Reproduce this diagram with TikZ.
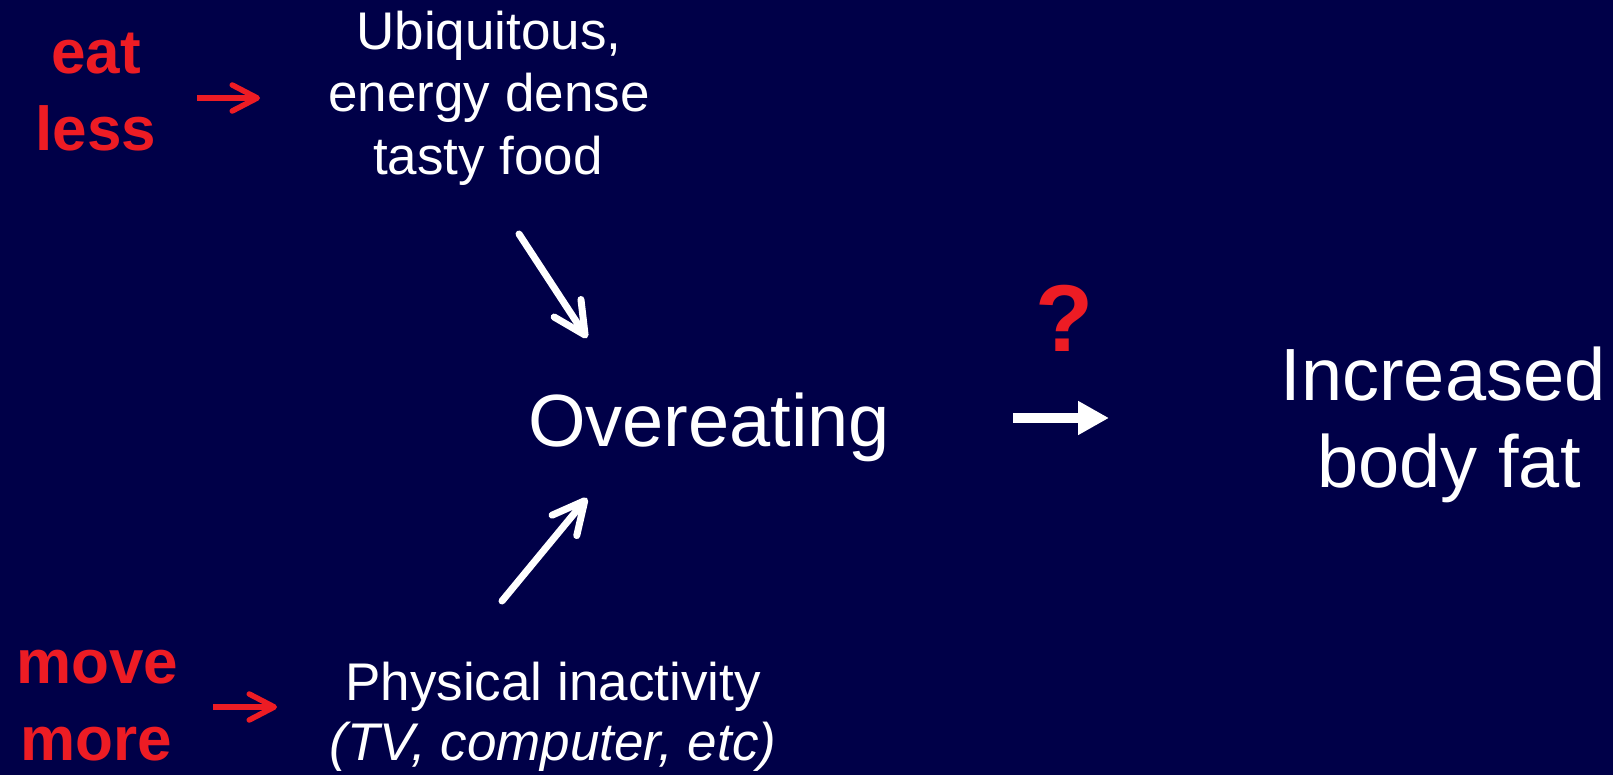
\documentclass[tikz,border=0pt]{standalone}
\usepackage{fontspec}
\setmainfont{Liberation Sans}
\usetikzlibrary{arrows.meta}
\definecolor{bgnavy}{RGB}{0,0,72}
\definecolor{hintred}{RGB}{237,28,36}
\begin{document}
\begin{tikzpicture}[x=1pt,y=-1pt,
  txt/.style={inner sep=0pt, anchor=base, text=white},
  midtxt/.style={txt, font=\fontsize{53}{63}\selectfont},
  bigtxt/.style={txt, font=\fontsize{74}{88}\selectfont},
  redtxt/.style={inner sep=0pt, anchor=base, text=hintred, font=\fontsize{62}{70}\selectfont\bfseries},
  redarrow/.style={draw=hintred, line width=5.5pt, -{Straight Barb[length=25pt,width=26pt,round]}},
  whitearrow/.style={draw=white, line width=7pt, line cap=round, -{Straight Barb[length=32pt,width=32pt,round]}},
  boldarrow/.style={draw=white, line width=10.5pt, -{Triangle[length=31pt,width=32pt]}}]
\fill[bgnavy] (0,0) rectangle (1613,775);
\useasboundingbox (0,0) rectangle (1613,775);
% red hints
\node[redtxt] (eat) at (96,74) {eat};
\node[redtxt] (less) at (96,151) {less};
\node[redtxt] (move) at (97,683) {move};
\node[redtxt] (more) at (96,760) {more};
% food text
\node[midtxt] (food1) at (489,50) {Ubiquitous,};
\node[midtxt] (food2) at (489,112) {energy dense};
\node[midtxt] (food3) at (488,175) {tasty food};
% inactivity text
\node[midtxt] (inact1) at (553,700) {Physical inactivity};
\node[midtxt] (inact2) at (553,760) {\itshape (TV, computer, etc)};
% center and right
\node[bigtxt] (over) at (709,446) {Overeating};
\node[bigtxt] (fat1) at (1443,400) {Increased};
\node[bigtxt] (fat2) at (1449,487) {body fat};
\node[inner sep=0pt, anchor=base, text=hintred, font=\fontsize{95}{105}\selectfont\bfseries] (q) at (1064,352) {?};
% arrow end points
\coordinate (r1s) at (197,98);
\coordinate (r1e) at (260,98);
\coordinate (r2s) at (213,707);
\coordinate (r2e) at (277,707);
\coordinate (d1s) at (519,234);
\coordinate (d1e) at (587,338);
\coordinate (u1s) at (502,601);
\coordinate (u1e) at (587,498);
\coordinate (rs) at (1013,418);
\coordinate (re) at (1109,418);
\draw[redarrow] (r1s) -- (r1e);
\draw[redarrow] (r2s) -- (r2e);
\draw[whitearrow] (d1s) -- (d1e);
\draw[whitearrow] (u1s) -- (u1e);
\draw[boldarrow] (rs) -- (re);
\end{tikzpicture}
\end{document}
